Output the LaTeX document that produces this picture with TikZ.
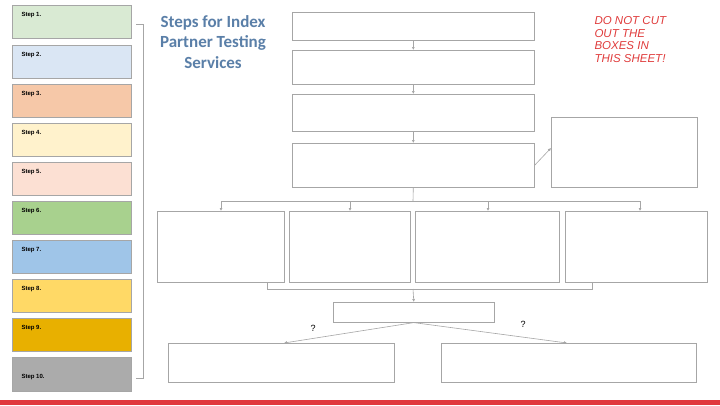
\documentclass[tikz,border=0pt]{standalone}
\usepackage{fontspec}
\setmainfont{Liberation Sans}
\newfontfamily\carl{Carlito}
\begin{document}
\begin{tikzpicture}[x=1pt,y=-1pt,
  stepbox/.style={draw=black!35,line width=0.6pt,minimum width=119pt,minimum height=33pt,inner sep=0,anchor=north west},
  flowbox/.style={draw=black!35,line width=0.6pt,inner sep=0,anchor=north west},
  con/.style={draw=black!35,line width=0.6pt},
  arr/.style={con,-{Latex[length=3pt,width=3pt]}},
  steplbl/.style={font=\fontsize{6}{7}\selectfont\bfseries,anchor=north west}]
\usetikzlibrary{arrows.meta}
\useasboundingbox (0,0) rectangle (720,405);
\fill[white] (0,0) rectangle (720,405);
\definecolor{barc}{HTML}{E0393E}
\fill[barc] (0,400) rectangle (720,405);
\foreach \i/\y/\c in {1/5/D9EAD3,2/45/DAE6F4,3/84/F6C8A8,4/123/FFF2CC,5/162/FCE0D3,6/201/A8D18E,7/240/9FC5E8,8/279/FFD966,9/318/E8B000}{
  \definecolor{c\i}{HTML}{\c}
  \node[stepbox,fill=c\i] (s\i) at (12,\y) {};
  \node[steplbl] (l\i) at (18,\y+4) {Step \i.};
}
\definecolor{c10}{HTML}{ABABAB}
\node[stepbox,fill=c10,minimum height=34pt] (s10) at (12,357) {};
\node[steplbl] (l10) at (18,371) {Step 10.};
\draw[con] (136,24) -- (143,24) -- (143,378) -- (136,378);
\definecolor{tt}{HTML}{5A7FA8}
\definecolor{wr}{HTML}{E03C3C}
\node[font=\carl\bfseries\fontsize{17}{20.5}\selectfont,text=tt,align=center] (title) at (213,42) {Steps for Index\\Partner Testing\\Services};
\node[font=\itshape\fontsize{11.5}{12.5}\selectfont,text=wr,align=left,anchor=north west] (warn) at (591,13) {DO NOT CUT\\OUT THE\\BOXES IN\\THIS SHEET!};
\node[flowbox,minimum width=242pt,minimum height=28pt] (b1) at (292,12) {};
\node[flowbox,minimum width=242pt,minimum height=34pt] (b2) at (292,50) {};
\node[flowbox,minimum width=242pt,minimum height=37pt] (b3) at (292,94) {};
\node[flowbox,minimum width=242pt,minimum height=44pt] (b4) at (292,143) {};
\node[flowbox,minimum width=146pt,minimum height=70pt] (side) at (551,117) {};
\node[flowbox,minimum width=127pt,minimum height=71pt] (r1) at (157,211) {};
\node[flowbox,minimum width=121pt,minimum height=71pt] (r2) at (289,211) {};
\node[flowbox,minimum width=144pt,minimum height=71pt] (r3) at (415,211) {};
\node[flowbox,minimum width=142pt,minimum height=71pt] (r4) at (565,211) {};
\node[flowbox,minimum width=161pt,minimum height=20pt] (m) at (333,302) {};
\node[flowbox,minimum width=226pt,minimum height=39pt] (e1) at (168,343) {};
\node[flowbox,minimum width=255pt,minimum height=39pt] (e2) at (441,343) {};
\draw[arr] (b1.south) -- (b2.north);
\draw[arr] (b2.south) -- (b3.north);
\draw[arr] (b3.south) -- (b4.north);
\draw[arr] (b4.east) -- (side.west|-0,148);
\draw[con] (b4.south) -- (413,201);
\draw[con] (221,201) -- (640,201);
\draw[arr] (221,201) -- (r1.north-|221,0);
\draw[arr] (350,201) -- (r2.north-|350,0);
\draw[arr] (488,201) -- (r3.north-|488,0);
\draw[arr] (640,201) -- (r4.north-|640,0);
\draw[con] (r1.south-|267,0) -- (267,289) -- (592,289) -- (r4.south-|592,0);
\draw[arr] (413,289) -- (m.north);
\draw[arr] (m.south) -- (e1.north-|284,0);
\draw[arr] (m.south) -- (e2.north-|567,0);
\node[font=\fontsize{9}{10}\selectfont] (q1) at (313,328) {?};
\node[font=\fontsize{9}{10}\selectfont] (q2) at (523,324) {?};
\end{tikzpicture}
\end{document}
